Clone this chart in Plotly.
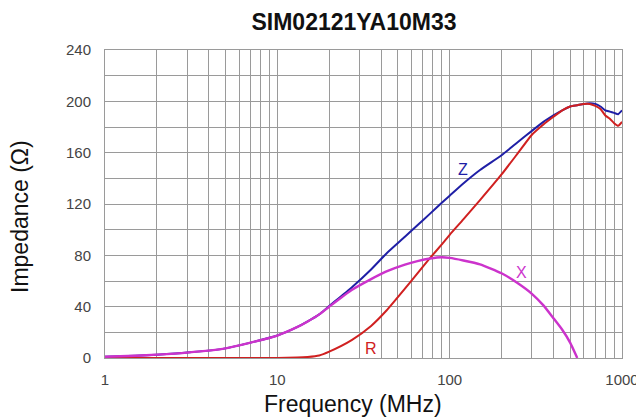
import plotly.graph_objects as go
import math

freq = [1, 1.5, 2, 3, 5, 7, 10, 13, 15, 17.5, 20, 27, 35, 43, 55, 65, 77, 90, 100, 120, 150,
        200, 250, 300, 350, 400, 450, 500, 550, 600, 650, 700, 750, 800, 850, 900, 950, 1000]
z_vals = [1, 1.8, 2.6, 4.2, 7.5, 12, 17.5, 24, 28.5, 34, 40.5, 55, 69, 81.5, 94.5, 103.5, 112.5, 121, 126.5,
          136, 146.5, 158, 168.5, 177, 184, 189, 193, 196, 197, 198, 198.5, 198, 196, 193, 192, 191, 190, 193]
r_vals = [0, 0, 0, 0, 0, 0, 0, 0.3, 0.8, 2, 5, 14, 25, 37, 54, 66, 78, 88.5, 96,
          108, 123, 143, 160, 174, 182, 188, 193, 196, 197, 198, 198, 196.5, 194, 189, 186.5, 183, 181, 184]
x_vals = [1, 1.8, 2.6, 4.2, 7.5, 12, 17.5, 24, 28.5, 34, 40, 53, 61.5, 67.5, 72.8, 75.5, 77.5, 78.5, 78,
          76, 73, 66, 58, 50, 41, 31, 22, 12, 0, None, None, None, None, None, None, None, None, None]

decades = [1, 10, 100, 1000]
decade_labels = ["1", "10", "100", "1000"]
minor_x = [m * d for d in [1, 10, 100] for m in range(2, 10)]
y_ticks = [0, 40, 80, 120, 160, 200, 240]

FONT = "Liberation Sans, Arial, sans-serif"
BLUE = "#1f1fa6"
RED = "#d02020"
MAG = "#cc33cc"

# the page adds an 8px body margin, so the figure is sized to fill the rest
W, H = 636, 412
ML, MT, MR, MB = 97, 42, 22, 62
PW = W - ML - MR
PH = H - MT - MB

fig = go.Figure()
fig.add_trace(go.Scatter(x=freq, y=z_vals, mode="lines",
                         line=dict(color=BLUE, width=2, shape="spline", smoothing=0.5), name="Z"))
fig.add_trace(go.Scatter(x=freq, y=r_vals, mode="lines",
                         line=dict(color=RED, width=2, shape="spline", smoothing=0.5), name="R"))
fig.add_trace(go.Scatter(x=freq, y=x_vals, mode="lines",
                         line=dict(color=MAG, width=2.4, shape="spline", smoothing=0.5), name="X"))

labels = [("Z", 119, 147, BLUE), ("X", 260, 67, MAG), ("R", 35, 7.6, RED)]
for t, fx, fy, c in labels:
    fig.add_annotation(x=math.log10(fx), y=fy, text=t, showarrow=False,
                       font=dict(family=FONT, size=16, color=c))

def px_x(page_x):
    return (page_x - 8 - ML) / PW

def px_y(page_y):
    return (MT + PH - (page_y - 8)) / PH

# axis titles
fig.add_annotation(xref="paper", yref="paper", x=px_x(353), y=px_y(404),
                   text="Frequency (MHz)", showarrow=False, xanchor="center", yanchor="middle",
                   font=dict(family=FONT, size=23, color="#111"))
fig.add_annotation(xref="paper", yref="paper", x=px_x(20), y=px_y(217),
                   text="Impedance (Ω)", showarrow=False, textangle=-90,
                   xanchor="center", yanchor="middle",
                   font=dict(family=FONT, size=23, color="#111"))

grid = "#9a9a9a"
fig.update_layout(
    width=W, height=H,
    margin=dict(l=ML, r=MR, t=MT, b=MB, autoexpand=False),
    paper_bgcolor="white", plot_bgcolor="white",
    showlegend=False,
    title=dict(text="<b>SIM02121YA10M33</b>", x=(354 - 8) / W, xanchor="center",
               y=1 - (21.5 - 8) / H, yanchor="middle",
               font=dict(family=FONT, size=23, color="#111")),
    xaxis=dict(type="log", range=[0, 3], tickvals=decades, ticktext=decade_labels,
               showgrid=True, gridcolor=grid, gridwidth=1,
               minor=dict(tickvals=minor_x, showgrid=True, gridcolor=grid, gridwidth=1),
               showline=True, linecolor=grid, mirror=True,
               ticks="", ticklabelstandoff=8,
               tickfont=dict(family=FONT, size=15, color="#444"),
               zeroline=False),
    yaxis=dict(range=[0, 240], tickvals=y_ticks,
               showgrid=True, gridcolor=grid, gridwidth=1,
               minor=dict(dtick=20, showgrid=True, gridcolor=grid, gridwidth=1),
               showline=True, linecolor=grid, mirror=True,
               ticks="", ticklabelstandoff=10,
               tickfont=dict(family=FONT, size=15, color="#444"),
               zeroline=False),
)

fig.write_html("out.html")
